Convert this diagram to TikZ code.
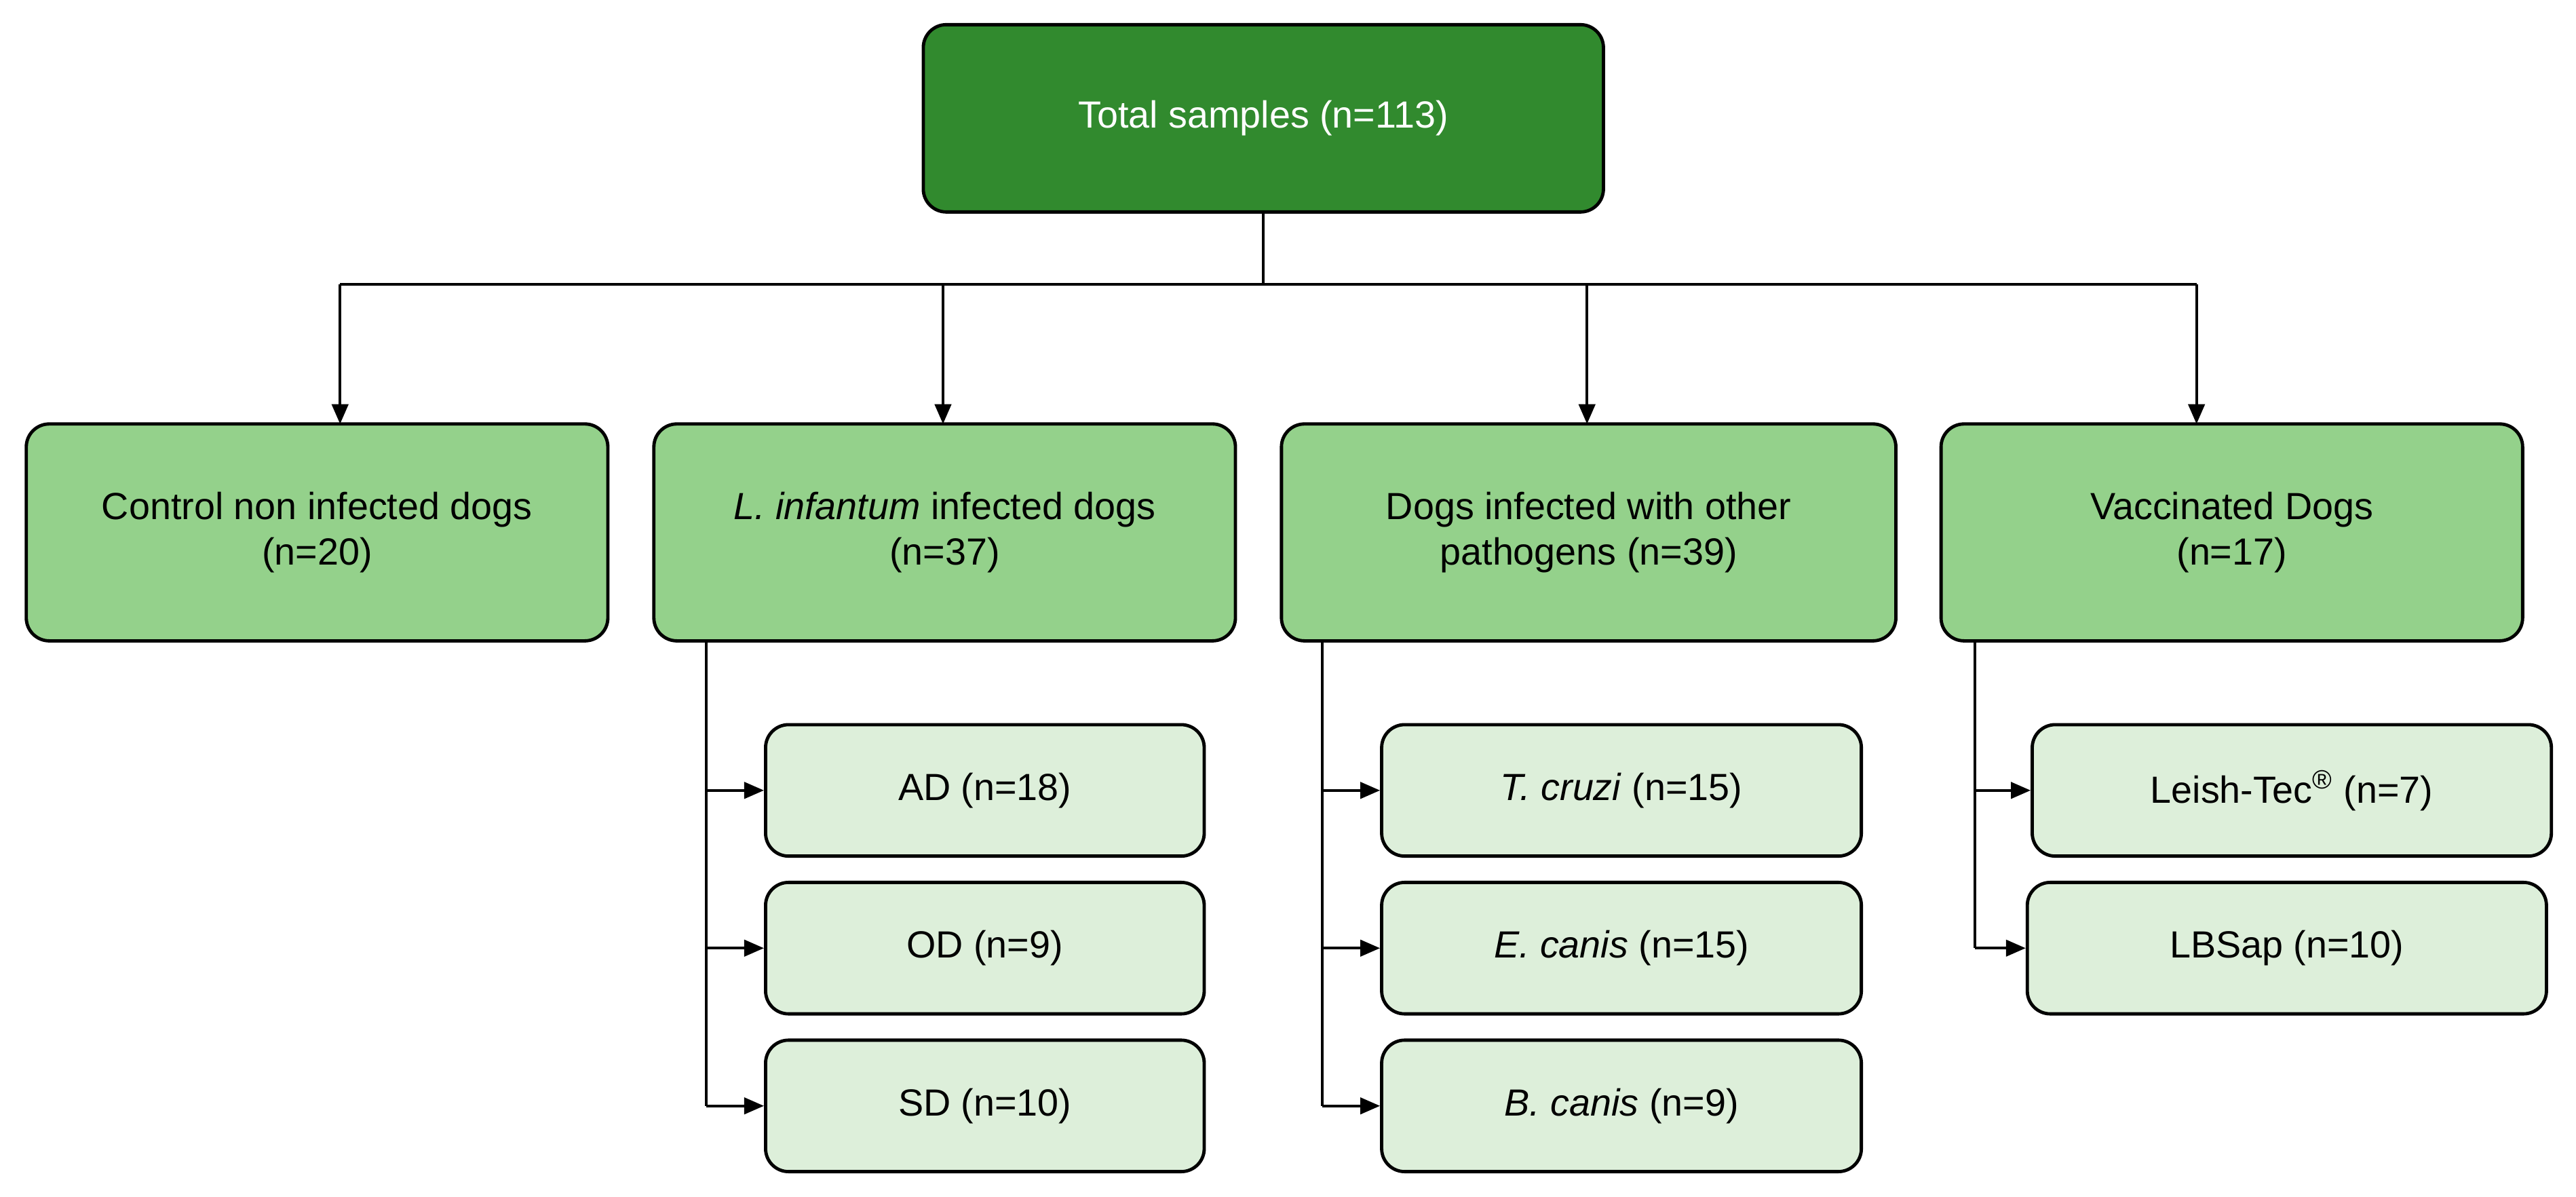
\documentclass[tikz,border=0pt]{standalone}
\usepackage{fontspec}
\setmainfont{Liberation Sans}
\usetikzlibrary{arrows.meta}
\definecolor{dk}{HTML}{318A2E}
\definecolor{md}{HTML}{94D18B}
\definecolor{lt}{HTML}{DDEFDA}
\begin{document}
\begin{tikzpicture}[x=0.5pt,y=-0.5pt,
  box/.style={draw=black,line width=1pt,rounded corners=7pt,align=center,font=\fontsize{11.5}{14}\selectfont,inner sep=0pt},
  arr/.style={-{Triangle[length=6pt,width=5pt]},line width=0.8pt},
  ln/.style={line width=0.8pt}]
\useasboundingbox (0,0) rectangle (1568,728.4);
\node[box,fill=dk,text=white,minimum width=207pt,minimum height=57pt] (top) at (769,72) {Total samples (n=113)};
\node[box,fill=md,minimum width=177pt,minimum height=66pt] (c1) at (193,324) {Control non infected dogs\\(n=20)};
\node[box,fill=md,minimum width=177pt,minimum height=66pt] (c2) at (575,324) {\textit{L. infantum} infected dogs\\(n=37)};
\node[box,fill=md,minimum width=187pt,minimum height=66pt] (c3) at (967,324) {Dogs infected with other\\pathogens (n=39)};
\node[box,fill=md,minimum width=177pt,minimum height=66pt] (c4) at (1358.5,324) {Vaccinated Dogs\\(n=17)};
\coordinate (j) at (769,173);
\draw[ln] (top.south) -- (j);
\draw[ln] (207,173) -- (1337,173);
\foreach \x/\n in {207/c1,574/c2,966/c3,1337/c4}{\draw[arr] (\x,173) -- (\x,258);}
% group 2
\node[box,fill=lt,minimum width=133.5pt,minimum height=40pt] (a1) at (599.5,481) {AD (n=18)};
\node[box,fill=lt,minimum width=133.5pt,minimum height=40pt] (a2) at (599.5,577) {OD (n=9)};
\node[box,fill=lt,minimum width=133.5pt,minimum height=40pt] (a3) at (599.5,673) {SD (n=10)};
\draw[ln] (430,390) -- (430,673);
\foreach \n in {a1,a2,a3}{\draw[arr] (430,0 |- \n.west) -- (\n.west);}
% group 3
\node[box,fill=lt,minimum width=146pt,minimum height=40pt] (b1) at (987,481) {\textit{T. cruzi} (n=15)};
\node[box,fill=lt,minimum width=146pt,minimum height=40pt] (b2) at (987,577) {\textit{E. canis} (n=15)};
\node[box,fill=lt,minimum width=146pt,minimum height=40pt] (b3) at (987,673) {\textit{B. canis} (n=9)};
\draw[ln] (805,390) -- (805,673);
\foreach \n in {b1,b2,b3}{\draw[arr] (805,0 |- \n.west) -- (\n.west);}
% group 4
\node[box,fill=lt,minimum width=158pt,minimum height=40pt] (v1) at (1395,481) {Leish-Tec\textsuperscript{®} (n=7)};
\node[box,fill=lt,minimum width=158pt,minimum height=40pt] (v2) at (1392,577) {LBSap (n=10)};
\draw[ln] (1202,390) -- (1202,577);
\foreach \n in {v1,v2}{\draw[arr] (1202,0 |- \n.west) -- (\n.west);}
\end{tikzpicture}
\end{document}
